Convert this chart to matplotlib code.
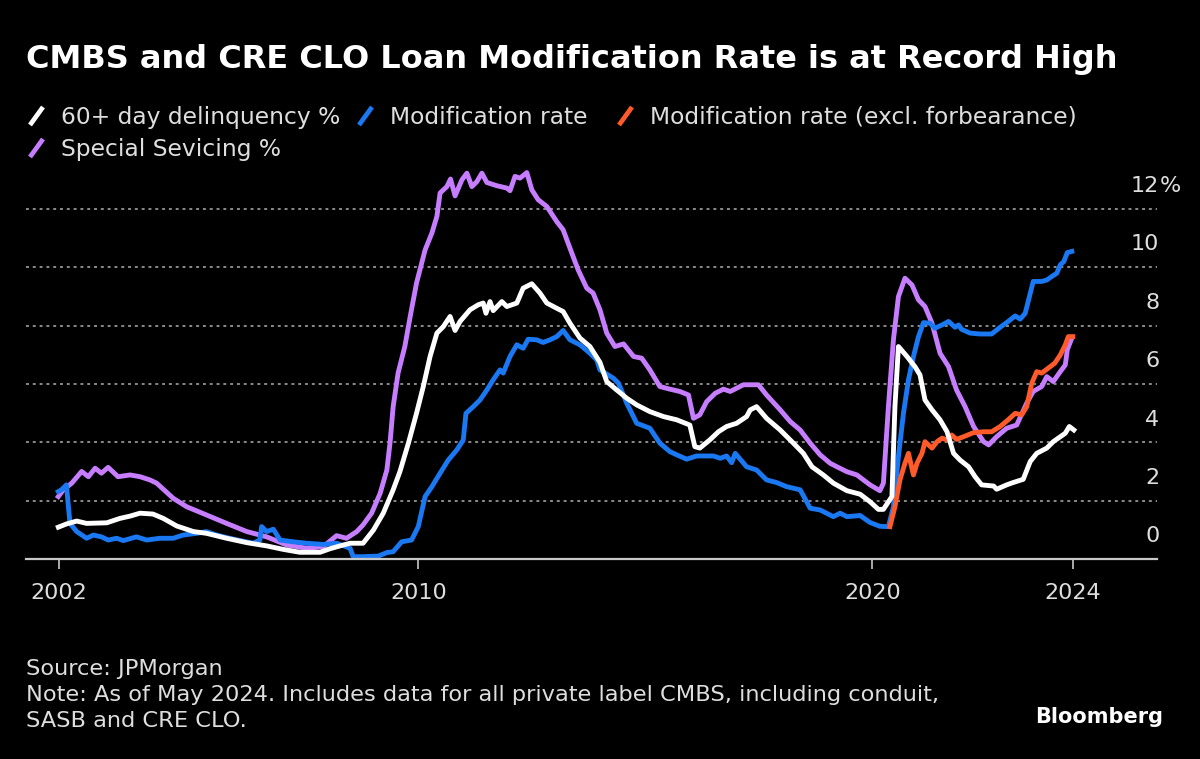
import numpy as np
import matplotlib.pyplot as plt
from matplotlib.lines import Line2D

# 60+ day delinquency %
dlq_x = [2001.98, 2002.16, 2002.39, 2002.61, 2003.06, 2003.35, 2003.58, 2003.80, 2004.09, 2004.32,
         2004.62, 2004.99, 2005.28, 2005.73, 2006.18, 2006.62, 2006.99, 2007.36, 2007.81, 2008.03,
         2008.26, 2008.48, 2008.77, 2009.00, 2009.22, 2009.44, 2009.59, 2009.78, 2009.96, 2010.11,
         2010.26, 2010.41, 2010.55, 2010.70, 2010.81, 2010.92, 2011.14, 2011.32, 2011.43, 2011.49,
         2011.58, 2011.65, 2011.84, 2011.95, 2012.17, 2012.31, 2012.50, 2012.68, 2012.83, 2013.05,
         2013.19, 2013.34, 2013.56, 2013.78, 2014.00, 2014.15, 2014.37, 2014.59, 2014.81, 2015.10,
         2015.40, 2015.69, 2015.98, 2016.09, 2016.20, 2016.42, 2016.61, 2016.79, 2017.01, 2017.23,
         2017.31, 2017.45, 2017.67, 2017.97, 2018.26, 2018.48, 2018.67, 2018.92, 2019.14, 2019.44,
         2019.73, 2019.95, 2020.12, 2020.22, 2020.32, 2020.39, 2020.45, 2020.52, 2020.69, 2020.85,
         2020.95, 2021.05, 2021.19, 2021.35, 2021.49, 2021.62, 2021.75, 2021.92, 2022.05, 2022.18,
         2022.42, 2022.48, 2022.68, 2022.81, 2023.01, 2023.15, 2023.28, 2023.48, 2023.61, 2023.75,
         2023.85, 2023.93, 2024.02]
dlq_y = [1.09, 1.20, 1.30, 1.22, 1.24, 1.39, 1.47, 1.57, 1.54, 1.39,
         1.13, 0.94, 0.88, 0.71, 0.56, 0.45, 0.33, 0.23, 0.23, 0.35,
         0.45, 0.54, 0.54, 0.99, 1.57, 2.37, 2.99, 3.97, 4.99, 5.91,
         6.94, 7.74, 7.96, 8.31, 7.83, 8.14, 8.54, 8.71, 8.77, 8.42,
         8.82, 8.51, 8.82, 8.65, 8.77, 9.28, 9.43, 9.11, 8.77, 8.59,
         8.48, 8.08, 7.57, 7.28, 6.74, 6.08, 5.79, 5.51, 5.28, 5.05,
         4.88, 4.77, 4.59, 3.85, 3.80, 4.08, 4.36, 4.54, 4.65, 4.88,
         5.11, 5.22, 4.82, 4.42, 3.97, 3.62, 3.16, 2.88, 2.60, 2.34,
         2.22, 1.96, 1.70, 1.70, 1.96, 2.14, 5.22, 7.28, 6.94, 6.59,
         6.31, 5.45, 5.11, 4.77, 4.36, 3.62, 3.39, 3.16, 2.82, 2.54,
         2.50, 2.39, 2.54, 2.62, 2.73, 3.34, 3.62, 3.80, 4.02, 4.19,
         4.31, 4.54, 4.42]

# Modification rate
mod_x = [2001.98, 2002.05, 2002.16, 2002.24, 2002.39, 2002.61, 2002.76, 2002.94, 2003.09, 2003.28,
         2003.43, 2003.72, 2003.95, 2004.24, 2004.54, 2004.76, 2005.06, 2005.28, 2005.51, 2005.80,
         2006.32, 2006.47, 2006.51, 2006.62, 2006.77, 2006.92, 2007.21, 2007.51, 2007.88, 2008.18,
         2008.48, 2008.55, 2008.77, 2009.11, 2009.30, 2009.44, 2009.63, 2009.85, 2010.00, 2010.15,
         2010.30, 2010.48, 2010.66, 2010.85, 2010.99, 2011.05, 2011.21, 2011.36, 2011.51, 2011.65,
         2011.80, 2011.87, 2012.02, 2012.17, 2012.31, 2012.42, 2012.61, 2012.75, 2012.90, 2013.05,
         2013.19, 2013.34, 2013.56, 2013.78, 2013.93, 2014.00, 2014.30, 2014.41, 2014.59, 2014.81,
         2015.10, 2015.32, 2015.54, 2015.69, 2015.91, 2016.13, 2016.50, 2016.65, 2016.79, 2016.90,
         2016.98, 2017.23, 2017.45, 2017.67, 2017.89, 2018.11, 2018.41, 2018.63, 2018.85, 2019.14,
         2019.29, 2019.44, 2019.73, 2019.95, 2020.15, 2020.32, 2020.42, 2020.52, 2020.62, 2020.72,
         2020.82, 2020.92, 2021.02, 2021.15, 2021.25, 2021.39, 2021.52, 2021.65, 2021.72, 2021.78,
         2021.95, 2022.15, 2022.38, 2022.55, 2022.71, 2022.85, 2022.95, 2023.05, 2023.15, 2023.21,
         2023.38, 2023.48, 2023.58, 2023.68, 2023.75, 2023.82, 2023.89, 2023.98]
mod_y = [2.31, 2.37, 2.54, 1.22, 0.94, 0.71, 0.82, 0.76, 0.65, 0.71,
         0.63, 0.76, 0.65, 0.71, 0.71, 0.82, 0.88, 0.94, 0.82, 0.71,
         0.54, 0.65, 1.11, 0.94, 1.02, 0.65, 0.59, 0.54, 0.50, 0.54,
         0.37, 0.08, 0.08, 0.10, 0.22, 0.25, 0.59, 0.65, 1.11, 2.14,
         2.48, 2.94, 3.39, 3.74, 4.08, 4.99, 5.22, 5.45, 5.79, 6.14,
         6.48, 6.37, 6.94, 7.34, 7.22, 7.53, 7.51, 7.42, 7.51, 7.62,
         7.83, 7.51, 7.34, 7.05, 6.82, 6.48, 6.19, 6.02, 5.34, 4.65,
         4.48, 3.97, 3.68, 3.57, 3.42, 3.53, 3.53, 3.45, 3.53, 3.30,
         3.62, 3.16, 3.05, 2.71, 2.62, 2.48, 2.37, 1.74, 1.68, 1.45,
         1.57, 1.45, 1.49, 1.25, 1.12, 1.11, 1.79, 3.51, 4.99, 6.14,
         6.94, 7.62, 8.10, 8.08, 7.91, 8.02, 8.14, 7.94, 8.02, 7.87,
         7.74, 7.71, 7.71, 7.94, 8.14, 8.33, 8.22, 8.42, 9.11, 9.51,
         9.51, 9.56, 9.68, 9.79, 10.08, 10.19, 10.50, 10.54]

# Modification rate (excl. forbearance)
modx_x = [2020.35, 2020.45, 2020.55, 2020.65, 2020.72, 2020.82, 2020.89, 2020.99, 2021.05, 2021.19,
          2021.29, 2021.39, 2021.49, 2021.58, 2021.68, 2021.82, 2022.02, 2022.22, 2022.38, 2022.55,
          2022.71, 2022.85, 2022.98, 2023.08, 2023.18, 2023.28, 2023.38, 2023.51, 2023.64, 2023.75,
          2023.85, 2023.91, 2024.00]
modx_y = [1.11, 1.79, 2.71, 3.28, 3.62, 2.88, 3.28, 3.62, 4.02, 3.80,
          4.02, 4.14, 4.08, 4.25, 4.10, 4.19, 4.33, 4.36, 4.36, 4.54,
          4.77, 4.99, 4.94, 5.22, 6.02, 6.42, 6.37, 6.54, 6.71, 6.99,
          7.34, 7.62, 7.62]

# Special servicing %
ss_x = [2001.98, 2002.09, 2002.28, 2002.50, 2002.65, 2002.80, 2002.94, 2003.09, 2003.31, 2003.58,
        2003.80, 2004.02, 2004.17, 2004.54, 2004.84, 2005.28, 2005.73, 2006.18, 2006.62, 2007.07,
        2007.51, 2007.88, 2008.18, 2008.40, 2008.63, 2008.77, 2008.96, 2009.15, 2009.30, 2009.37,
        2009.44, 2009.55, 2009.70, 2009.82, 2009.96, 2010.15, 2010.30, 2010.41, 2010.48, 2010.63,
        2010.71, 2010.81, 2010.96, 2011.07, 2011.18, 2011.29, 2011.40, 2011.51, 2011.73, 2011.95,
        2012.02, 2012.13, 2012.24, 2012.39, 2012.50, 2012.64, 2012.83, 2013.05, 2013.19, 2013.34,
        2013.52, 2013.71, 2013.85, 2014.00, 2014.15, 2014.33, 2014.52, 2014.74, 2014.92, 2015.10,
        2015.32, 2015.54, 2015.76, 2015.95, 2016.06, 2016.20, 2016.35, 2016.54, 2016.72, 2016.87,
        2017.16, 2017.49, 2017.67, 2017.97, 2018.19, 2018.41, 2018.63, 2018.85, 2019.07, 2019.22,
        2019.44, 2019.66, 2019.88, 2019.95, 2020.15, 2020.22, 2020.32, 2020.42, 2020.52, 2020.65,
        2020.79, 2020.92, 2021.05, 2021.19, 2021.35, 2021.52, 2021.68, 2021.85, 2022.02, 2022.22,
        2022.32, 2022.48, 2022.68, 2022.88, 2023.08, 2023.21, 2023.38, 2023.48, 2023.61, 2023.75,
        2023.85, 2023.89, 2023.98]
ss_y = [2.14, 2.37, 2.60, 3.00, 2.82, 3.11, 2.94, 3.14, 2.82, 2.88,
        2.82, 2.71, 2.60, 2.08, 1.79, 1.51, 1.22, 0.94, 0.76, 0.48,
        0.37, 0.42, 0.80, 0.71, 0.94, 1.17, 1.57, 2.25, 3.05, 3.97,
        5.22, 6.37, 7.28, 8.31, 9.45, 10.59, 11.17, 11.74, 12.54, 12.76,
        13.02, 12.44, 12.99, 13.22, 12.76, 12.93, 13.22, 12.90, 12.79, 12.71,
        12.62, 13.11, 13.05, 13.24, 12.65, 12.31, 12.08, 11.56, 11.28, 10.65,
        9.91, 9.28, 9.11, 8.54, 7.74, 7.28, 7.37, 6.94, 6.88, 6.48,
        5.91, 5.82, 5.74, 5.62, 4.82, 4.94, 5.39, 5.68, 5.82, 5.74,
        5.97, 5.97, 5.62, 5.11, 4.71, 4.42, 3.97, 3.57, 3.28, 3.16,
        2.99, 2.88, 2.62, 2.54, 2.34, 2.60, 5.22, 7.51, 8.99, 9.62,
        9.39, 8.88, 8.65, 8.08, 7.05, 6.59, 5.79, 5.22, 4.54, 4.02,
        3.91, 4.19, 4.48, 4.59, 5.34, 5.74, 5.91, 6.25, 6.08, 6.42,
        6.65, 7.17, 7.57]

year_ticks = [2002, 2010, 2020, 2024]
pct_ticks = [0, 2, 4, 6, 8, 10, 12]

c_white = '#ffffff'
c_blue = '#1a78f2'
c_red = '#ff5a2a'
c_purple = '#c77dff'
c_text = '#dedede'

W, H = 1200, 759
fig = plt.figure(figsize=(W / 100, H / 100), dpi=100, facecolor='black')

def fx(px):
    return px / W

def fy(py):
    return 1 - py / H

ax = fig.add_axes([fx(26), fy(559), (1157 - 26) / W, (559 - 165) / H])
ax.set_facecolor('black')

# the time axis in the source is not evenly spaced between the labelled years
anc_yr = [2000, 2002, 2010, 2020, 2024, 2026]
anc_pos = [-30.45, 59.3, 418.3, 872.3, 1072.7, 1172.9]
ax.set_xscale('function', functions=(lambda v: np.interp(v, anc_yr, anc_pos),
                                     lambda p: np.interp(p, anc_pos, anc_yr)))
ax.set_xlim(2001.26, 2025.68)
ax.set_ylim(0, 13.5)

lw = 3.5
ax.plot(ss_x, ss_y, color=c_purple, lw=lw, solid_joinstyle='round', zorder=3)
ax.plot(mod_x, mod_y, color=c_blue, lw=lw, solid_joinstyle='round', zorder=4)
ax.plot(modx_x, modx_y, color=c_red, lw=lw, solid_joinstyle='round', zorder=5)
ax.plot(dlq_x, dlq_y, color=c_white, lw=lw, solid_joinstyle='round', zorder=6)

ax.set_yticks(pct_ticks)
ax.yaxis.grid(True, color='#8a8a8a', linestyle=(0, (1.5, 2.0)), linewidth=1.4)
ax.set_axisbelow(True)
ax.tick_params(axis='y', length=0, labelleft=False, labelright=False)
for s in ['top', 'right', 'left']:
    ax.spines[s].set_visible(False)
ax.spines['bottom'].set_color('#c8c8c8')
ax.spines['bottom'].set_linewidth(1.6)
ax.spines['bottom'].set_zorder(7)

ax.set_xticks(year_ticks)
ax.set_xticklabels([str(y) for y in year_ticks])
ax.xaxis.set_minor_locator(plt.NullLocator())
ax.tick_params(axis='x', length=7, width=1.2, color='#c8c8c8', pad=10.5,
               labelsize=16, labelcolor=c_text)

for v in pct_ticks:
    ax.annotate(str(v), xy=(1.002, v), xycoords=ax.get_yaxis_transform(),
                xytext=(0, 12), textcoords='offset points',
                ha='right', va='baseline', fontsize=16, color=c_text)
ax.annotate('%', xy=(1.002, 12), xycoords=ax.get_yaxis_transform(),
            xytext=(0, 12), textcoords='offset points',
            ha='left', va='baseline', fontsize=16, color=c_text)

fig.text(fx(26), fy(68), 'CMBS and CRE CLO Loan Modification Rate is at Record High',
         fontsize=23, fontweight='bold', color='white', va='baseline', ha='left')

# legend
legend_items = [
    (c_white, 30, 124, '60+ day delinquency %'),
    (c_blue, 359, 124, 'Modification rate'),
    (c_red, 619, 124, 'Modification rate (excl. forbearance)'),
    (c_purple, 30, 156, 'Special Sevicing %'),
]
for col, x0, base, label in legend_items:
    fig.add_artist(Line2D([fx(x0), fx(x0 + 13)], [fy(base + 1), fy(base - 17)],
                          color=col, lw=3.4, solid_capstyle='butt'))
    fig.text(fx(x0 + 31), fy(base), label, fontsize=16.8, color=c_text,
             va='baseline', ha='left')

foot = 16.2
fig.text(fx(26), fy(675), 'Source: JPMorgan', fontsize=foot, color=c_text, va='baseline')
fig.text(fx(26), fy(701), 'Note: As of May 2024. Includes data for all private label CMBS, including conduit,',
         fontsize=foot, color=c_text, va='baseline')
fig.text(fx(26), fy(727), 'SASB and CRE CLO.', fontsize=foot, color=c_text, va='baseline')
fig.text(fx(1163), fy(723), 'Bloomberg', fontsize=15, fontweight='bold', color='white',
         va='baseline', ha='right')

fig.savefig('out.png', dpi=100, facecolor='black')
